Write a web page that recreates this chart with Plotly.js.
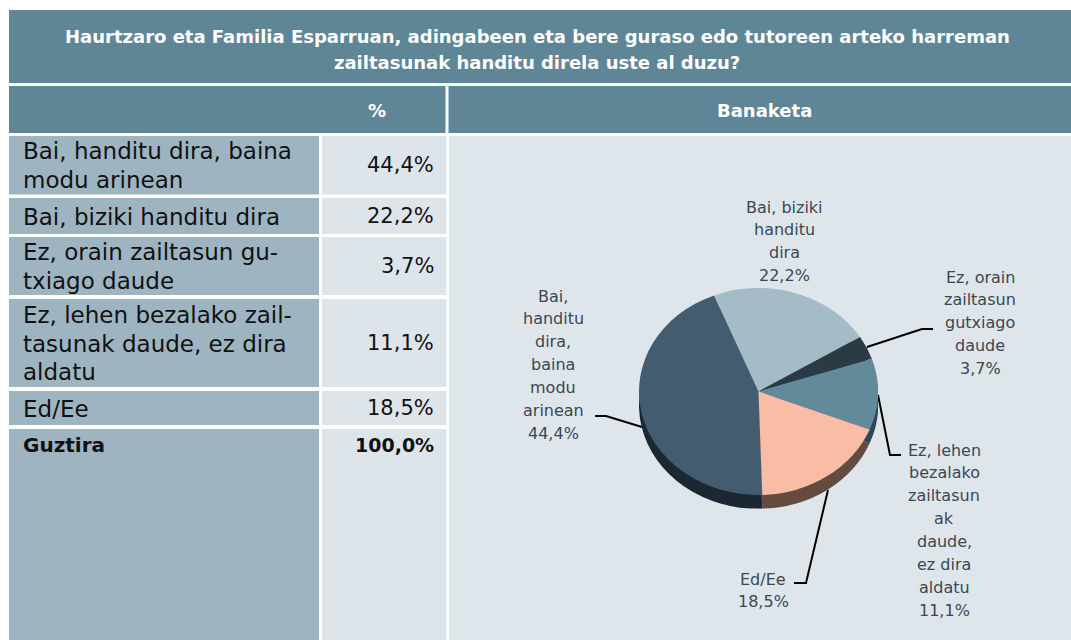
<!DOCTYPE html>
<html>
<head>
<meta charset="utf-8">
<script src="https://cdn.plot.ly/plotly-3.0.1.min.js"></script>
<style>
  html, body { margin: 0; padding: 0; background: #ffffff; }
  #wrap { position: relative; width: 1071px; height: 640px; overflow: hidden; }
  #main { position: absolute; left: 0; top: 0; width: 1071px; height: 640px; }
  #pie { position: absolute; left: 639px; top: 288px; width: 239px; height: 255px;
         transform: scaleY(0.866); transform-origin: 0 0; }
</style>
</head>
<body>
<div id="wrap">
  <div id="main"></div>
  <div id="pie"></div>
</div>
<script>
// ---------------- DATA ----------------
const titleLines = [
  "Haurtzaro eta Familia Esparruan, adingabeen eta bere guraso edo tutoreen arteko harreman",
  "zailtasunak handitu direla uste al duzu?"
];
const headerPct = "%";
const headerDist = "Banaketa";
const categories = [
  "Bai, handitu dira, baina modu arinean",
  "Bai, biziki handitu dira",
  "Ez, orain zailtasun gutxiago daude",
  "Ez, lehen bezalako zailtasunak daude, ez dira aldatu",
  "Ed/Ee"
];
const tableLabels = [
  ["Bai, handitu dira, baina", "modu arinean"],
  ["Bai, biziki handitu dira"],
  ["Ez, orain zailtasun gu-", "txiago daude"],
  ["Ez, lehen bezalako zail-", "tasunak daude, ez dira", "aldatu"],
  ["Ed/Ee"]
];
const pieLabels = [
  ["Bai,", "handitu", "dira,", "baina", "modu", "arinean"],
  ["Bai, biziki", "handitu", "dira"],
  ["Ez, orain", "zailtasun", "gutxiago", "daude"],
  ["Ez, lehen", "bezalako", "zailtasun", "ak", "daude,", "ez dira", "aldatu"],
  ["Ed/Ee"]
];
const shares = [44.4, 22.2, 3.7, 11.1, 18.5];
const totalLabel = "Guztira";
const totalShare = 100.0;

// ---------------- STYLE ----------------
const sliceColors = ["#435c70", "#a3bcc6", "#2b3b45", "#628a9b", "#f9bca5"];
const sideColors  = ["#1b2833", "#6e848e", "#1a252c", "#2f4654", "#654a3f"];
const C_BAND = "#5f8696", C_LEFT = "#9eb5c1", C_PCT = "#dde5eb", C_DIST = "#dee6ec";
const FONT = "DejaVu Sans";
const fmt = v => v.toFixed(1).replace(".", ",") + "%";

const shapes = [];
const ann = [];
function rect(x0, y0, x1, y1, color) {
  shapes.push({type: "rect", xref: "x", yref: "y", x0, y0, x1, y1,
    fillcolor: color, line: {width: 0}, layer: "below"});
}
function text(x, y, t, o) {
  ann.push(Object.assign({x, y, xref: "x", yref: "y", text: t, showarrow: false,
    xanchor: "center", yanchor: "middle",
    font: {family: FONT, size: 16, color: "#111111"}}, o || {}));
}

// Title band and header
rect(9, 10, 1071, 83, C_BAND);
rect(9, 86, 445.5, 133, C_BAND);
rect(448.5, 86, 1071, 133, C_BAND);
titleLines.forEach((t, i) => text(537, 36 + i * 26, "<b>" + t + "</b>",
  {font: {family: FONT, size: 18, color: "#ffffff"}}));
text(377, 110, "<b>" + headerPct + "</b>", {font: {family: FONT, size: 18, color: "#ffffff"}});
text(764, 110, "<b>" + headerDist + "</b>", {font: {family: FONT, size: 18, color: "#ffffff"}});

// Table rows
const rowTop = [136, 198, 237, 299, 391];
const rowBot = [194.5, 234, 295, 387, 425];
categories.forEach((c, i) => {
  rect(9, rowTop[i], 319, rowBot[i], C_LEFT);
  rect(322, rowTop[i], 446.5, rowBot[i], C_PCT);
  const mid = (rowTop[i] + rowBot[i]) / 2;
  const lines = tableLabels[i];
  lines.forEach((l, j) => text(21, mid + 0.5 + (j - (lines.length - 1) / 2) * 28.7, l,
    {xanchor: "left", font: {family: FONT, size: 23, color: "#111111"}}));
  text(436, mid, fmt(shares[i]), {xanchor: "right", font: {family: FONT, size: 21, color: "#111111"}});
});
rect(9, 429, 319, 640, C_LEFT);
rect(322, 429, 446.5, 640, C_PCT);
text(21, 445, "<b>" + totalLabel + "</b>", {xanchor: "left", font: {family: FONT, size: 20, color: "#111111"}});
text(436, 445, "<b>" + fmt(totalShare) + "</b>", {xanchor: "right", font: {family: FONT, size: 19, color: "#111111"}});
rect(449, 136, 1071, 640, C_DIST);

// Pie labels (line by line) and leader lines
const labelPos = [[553, 296], [784, 207], [980, 277], [944, 450], [763, 579]];
pieLabels.forEach((lines, i) => {
  const all = lines.concat([fmt(shares[i])]);
  all.forEach((l, j) => text(labelPos[i][0], labelPos[i][1] + j * 22.9, l,
    {font: {family: FONT, size: 16, color: "#3c4750"}}));
});
const leaders = [
  [[595, 416], [606, 416], [642, 427]],
  [[933, 329], [922, 329], [867, 347]],
  [[901, 455], [890, 455], [878, 395]],
  [[794, 583], [806, 583], [828, 490]]
];
leaders.forEach(p => shapes.push({type: "path", xref: "x", yref: "y",
  path: "M" + p.map(q => q[0] + "," + q[1]).join(" L"),
  line: {color: "#000000", width: 2}, layer: "above"}));

Plotly.newPlot("main", [], {
  width: 1071, height: 640, margin: {l: 0, r: 0, t: 0, b: 0},
  paper_bgcolor: "#ffffff", plot_bgcolor: "#ffffff",
  xaxis: {range: [0, 1071], visible: false, fixedrange: true},
  yaxis: {range: [640, 0], visible: false, fixedrange: true},
  shapes: shapes, annotations: ann, showlegend: false
}, {staticPlot: true, displayModeBar: false});

// ---------------- PIE (3D look: side layer + top layer) ----------------
const pieBase = {type: "pie", values: shares, labels: categories, sort: false,
  direction: "clockwise", rotation: 178.2, textinfo: "none", hoverinfo: "skip",
  showlegend: false};
Plotly.newPlot("pie", [
  Object.assign({}, pieBase, {marker: {colors: sideColors, line: {width: 0}},
    domain: {x: [0, 1], y: [0, 239 / 255]}}),
  Object.assign({}, pieBase, {marker: {colors: sliceColors, line: {width: 0}},
    domain: {x: [0, 1], y: [16 / 255, 1]}})
], {
  width: 239, height: 255, margin: {l: 0, r: 0, t: 0, b: 0},
  paper_bgcolor: "rgba(0,0,0,0)", plot_bgcolor: "rgba(0,0,0,0)", showlegend: false
}, {staticPlot: true, displayModeBar: false});
</script>
</body>
</html>
